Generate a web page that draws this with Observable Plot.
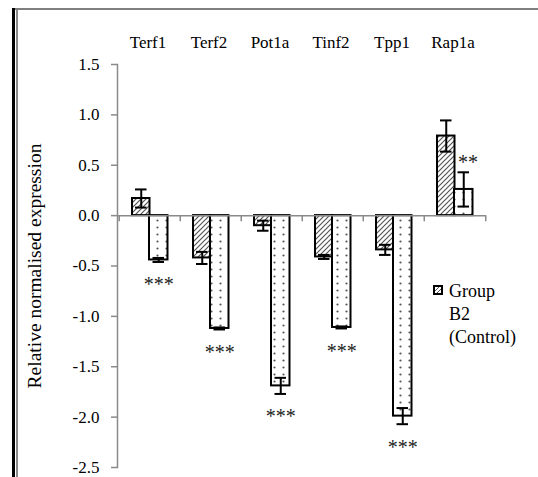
<!DOCTYPE html>
<html><head><meta charset="utf-8">
<script src="https://cdn.jsdelivr.net/npm/d3@7"></script>
<script src="https://cdn.jsdelivr.net/npm/@observablehq/plot@0.6"></script>
<style>
body{margin:0;background:#fff;}
#wrap{position:relative;width:538px;height:477px;overflow:hidden;font-family:"Liberation Serif","Times New Roman",serif;color:#000;}
#wrap svg{position:absolute;left:0;top:0;}
#wrap svg text{font-family:"Liberation Serif","Times New Roman",serif;}
.bd{position:absolute;}
#legend{position:absolute;left:433px;top:280px;font-size:18px;line-height:23px;}
#legend .tx{position:absolute;left:16px;top:0;white-space:nowrap;}
</style></head><body><div id="wrap"></div>
<script>
const genes = ["Terf1", "Terf2", "Pot1a", "Tinf2", "Tpp1", "Rap1a"];
const controlValues = [0.17, -0.42, -0.10, -0.41, -0.34, 0.79];
const controlErrors = [0.09, 0.06, 0.05, 0.02, 0.05, 0.155];
const treatedValues = [-0.44, -1.12, -1.69, -1.11, -1.99, 0.26];
const treatedErrors = [0.02, 0.01, 0.08, 0.01, 0.08, 0.17];
const treatedStars = ["***", "***", "***", "***", "***", "**"];
const yTicks = [1.5, 1.0, 0.5, 0.0, -0.5, -1.0, -1.5, -2.0, -2.5];
const yLabel = "Relative normalised expression";
const legendLines = ["Group", "B2", "(Control)"];

const rows = genes.map((g, i) => ({
  gene: g, ctrl: controlValues[i], ctrlErr: controlErrors[i],
  trt: treatedValues[i], trtErr: treatedErrors[i], star: treatedStars[i]
}));
const neg = rows.filter(d => d.trt < 0);
const pos = rows.filter(d => d.trt >= 0);

const FONT = "'Liberation Serif', 'Times New Roman', serif";
const gray = "#8a8a8a";
const half = 30.75;

const svg = Plot.plot({
  width: 538, height: 477,
  marginLeft: 117, marginRight: 52, marginTop: 64, marginBottom: 10,
  style: {fontFamily: FONT, fontSize: "17px", background: "transparent", color: "#000", overflow: "visible"},
  x: {domain: genes, padding: 0, axis: null, label: null},
  y: {domain: [-2.5, 1.5], axis: null, label: null},
  marks: [
    Plot.axisX({anchor: "top", tickSize: 0, tickPadding: 17, fontSize: 17, fontFamily: FONT, fill: "#000", label: null, dx: -2}),
    Plot.axisY({ticks: yTicks, tickFormat: d => d.toFixed(1), tickSize: 6, tickPadding: 12, stroke: gray, strokeWidth: 1.5, fill: "#000", fontSize: 17, fontFamily: FONT, label: null}),
    Plot.frame({anchor: "left", stroke: gray, strokeWidth: 1.5}),
    Plot.text([yLabel], {text: d => d, frameAnchor: "left", rotate: -90, dx: -83, textAnchor: "middle", lineAnchor: "middle", fontSize: 19.5, fontFamily: FONT, fill: "#000"}),
    Plot.barY(rows, {x: "gene", y: "ctrl", fill: "url(#hatch)", stroke: "#000", strokeWidth: 2, insetLeft: 13, insetRight: 30.5}),
    Plot.barY(rows, {x: "gene", y: "trt", fill: "url(#dots)", stroke: "#000", strokeWidth: 2, insetLeft: 30, insetRight: 12.5}),
    Plot.ruleY([0], {stroke: gray, strokeWidth: 1.5}),
    Plot.ruleX(genes, {x: d => d, y1: 0, y2: -0.06, dx: -half, stroke: gray, strokeWidth: 1.5}),
    Plot.ruleX(genes.slice(-1), {x: d => d, y1: 0, y2: -0.06, dx: half, stroke: gray, strokeWidth: 1.5}),
    // error bars control
    Plot.ruleX(rows, {x: "gene", y1: d => d.ctrl - d.ctrlErr, y2: d => d.ctrl + d.ctrlErr, dx: -8.75, stroke: "#000", strokeWidth: 2}),
    Plot.tickY(rows, {x: "gene", y: d => d.ctrl - d.ctrlErr, insetLeft: 16, insetRight: 33.5, stroke: "#000", strokeWidth: 2}),
    Plot.tickY(rows, {x: "gene", y: d => d.ctrl + d.ctrlErr, insetLeft: 16, insetRight: 33.5, stroke: "#000", strokeWidth: 2}),
    // error bars treated
    Plot.ruleX(rows, {x: "gene", y1: d => d.trt - d.trtErr, y2: d => d.trt + d.trtErr, dx: 8.75, stroke: "#000", strokeWidth: 2}),
    Plot.tickY(rows, {x: "gene", y: d => d.trt - d.trtErr, insetLeft: 33.5, insetRight: 16, stroke: "#000", strokeWidth: 2}),
    Plot.tickY(rows, {x: "gene", y: d => d.trt + d.trtErr, insetLeft: 33.5, insetRight: 16, stroke: "#000", strokeWidth: 2}),
    // significance
    Plot.text(neg, {x: "gene", y: d => d.trt - d.trtErr, text: "star", dx: 8.75, dy: 23, fontSize: 20, fontFamily: FONT, fill: "#222"}),
    Plot.text(pos, {x: "gene", y: d => d.trt + d.trtErr, text: "star", dx: 13, dy: -10, fontSize: 20, fontFamily: FONT, fill: "#222"})
  ]
});

svg.insertAdjacentHTML("afterbegin", `<defs>
<pattern id="hatch" patternUnits="userSpaceOnUse" width="5" height="5">
<rect width="5" height="5" fill="#fff"/>
<path d="M-1,6 L6,-1 M-1,1 L1,-1 M4,6 L6,4" stroke="#555" stroke-width="1.2"/>
</pattern>
<pattern id="dots" patternUnits="userSpaceOnUse" width="9" height="7">
<rect width="9" height="7" fill="#fff"/>
<circle cx="4.5" cy="3.5" r="1.1" fill="#555"/>
</pattern>
</defs>`);

const wrap = document.getElementById("wrap");
wrap.appendChild(svg);

// outer frame of the chart area
const borders = [
  {left: 12, top: 8, width: 526, height: 2, bg: "#7f7f7f"},
  {left: 12, top: 8, width: 3, height: 469, bg: "#000"},
  {left: 16, top: 10, width: 1.5, height: 467, bg: "#8a8a8a"}
];
for (const b of borders) {
  const d = document.createElement("div");
  d.className = "bd";
  Object.assign(d.style, {left: b.left + "px", top: b.top + "px", width: b.width + "px", height: b.height + "px", background: b.bg});
  wrap.appendChild(d);
}

// legend
const lg = document.createElement("div");
lg.id = "legend";
lg.innerHTML = `<svg width="10" height="10" style="position:absolute;left:0;top:5px"><defs><pattern id="hatch2" patternUnits="userSpaceOnUse" width="4" height="4"><rect width="4" height="4" fill="#fff"/><path d="M-1,5 L5,-1" stroke="#555" stroke-width="1"/></pattern></defs><rect x="1" y="1" width="8" height="8" fill="url(#hatch2)" stroke="#000" stroke-width="2"/></svg><div class="tx">${legendLines.join("<br>")}</div>`;
wrap.appendChild(lg);
</script>
</body></html>
